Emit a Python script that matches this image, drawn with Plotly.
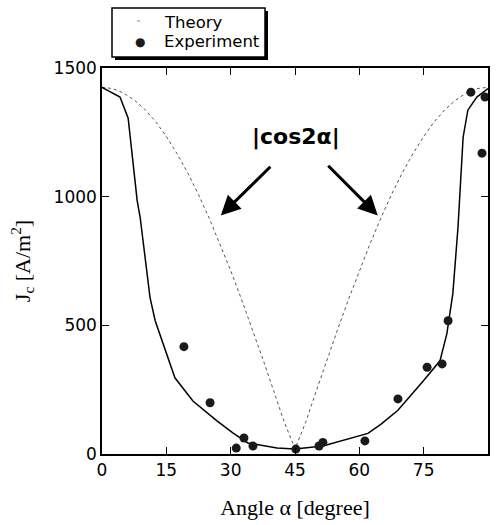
import plotly.graph_objects as go

# Theory (solid) curve
theory_angle = [0, 4.2, 6.1, 7.2, 8.2, 8.9, 10, 11.2, 12.4, 14, 17, 21.2, 26.8, 30.5, 34,
                40.8, 45, 51.5, 62, 65, 69, 74.9, 78.8, 80.4, 81.8, 83, 84.2, 85.3, 87.4, 90]
theory_jc = [1425, 1387, 1305, 1141, 985, 919, 763, 608, 518, 440, 296, 206, 129, 82, 43,
             23, 19, 31, 80, 115, 170, 284, 362, 467, 623, 880, 1231, 1336, 1387, 1420]

# |cos2a| dotted curve
cos_angle = [0, 2.5, 5, 7.5, 10, 12.5, 15, 17.5, 20, 22.5, 25, 27.5, 30, 32.5, 35, 37.5, 40, 42.5, 45,
             47.5, 50, 52.5, 55, 57.5, 60, 62.5, 65, 67.5, 70, 72.5, 75, 77.5, 80, 82.5, 85, 87.5, 90]
cos_jc = [1425, 1420, 1403, 1376, 1339, 1292, 1234, 1167, 1092, 1008, 916, 817, 713, 602, 487, 369, 247, 124, 20,
          124, 247, 369, 487, 602, 713, 817, 916, 1008, 1092, 1167, 1234, 1292, 1339, 1376, 1403, 1420, 1425]

# Experiment points
exp_angle = [19.1, 25.2, 31.3, 33.1, 35.2, 45.2, 50.6, 51.5, 61.3, 69.0, 75.8, 79.3, 80.7, 86.0, 88.6, 89.3]
exp_jc = [417, 199, 23, 62, 31, 19, 31, 45, 51, 214, 337, 350, 518, 1406, 1169, 1387]

x_ticks = [0, 15, 30, 45, 60, 75, 90]
y_ticks = [0, 500, 1000, 1500]
legend_labels = ["Theory", "Experiment"]

fig = go.Figure()
fig.add_trace(go.Scatter(x=cos_angle, y=cos_jc, mode="lines", name="|cos2α|",
                         line=dict(color="#555555", width=1, dash="dot"), showlegend=False))
fig.add_trace(go.Scatter(x=theory_angle, y=theory_jc, mode="lines", name=legend_labels[0],
                         line=dict(color="black", width=1.5), showlegend=False))
fig.add_trace(go.Scatter(x=exp_angle, y=exp_jc, mode="markers", name=legend_labels[1],
                         marker=dict(color="#1a1a1a", size=9, symbol="circle"), showlegend=False))

axis_common = dict(showline=True, linecolor="black", linewidth=1.5, mirror="ticks",
                   ticks="inside", ticklen=7, tickwidth=1.2, tickcolor="black",
                   showgrid=False, zeroline=False,
                   tickfont=dict(family="DejaVu Sans", size=17, color="black"))

fig.update_xaxes(range=[0, 90], tickvals=x_ticks, ticktext=[str(v) for v in x_ticks],
                 title=dict(text="Angle α [degree]", standoff=20,
                            font=dict(family="Liberation Serif", size=22, color="black")),
                 **axis_common)
fig.update_yaxes(range=[0, 1500], tickvals=y_ticks, ticktext=[str(v) for v in y_ticks],
                 title=dict(text="J<sub>c</sub> [A/m<sup>2</sup>]", standoff=17,
                            font=dict(family="Liberation Serif", size=22, color="black")),
                 **axis_common)

W, H = 498, 525
L, R, T, B = 102, 10, 68, 71
pw, ph = W - L - R, H - T - B

def px(xp):
    return (xp - L) / pw

def py(yp):
    return (H - B - yp) / ph

annotations = [
    dict(x=45.2, y=1231, xref="x", yref="y", text="<b>|cos2α|</b>", showarrow=False,
         font=dict(family="DejaVu Sans", size=22, color="black")),
    dict(x=27.7, y=927, ax=39.6, ay=1122, xref="x", yref="y", axref="x", ayref="y",
         text="", showarrow=True, arrowhead=2, arrowsize=1.3, arrowwidth=3, arrowcolor="black"),
    dict(x=64.3, y=927, ax=52.4, ay=1126, xref="x", yref="y", axref="x", ayref="y",
         text="", showarrow=True, arrowhead=2, arrowsize=1.3, arrowwidth=3, arrowcolor="black"),
    # legend texts
    dict(x=px(162), y=py(22), xref="paper", yref="paper", xanchor="left", yanchor="middle",
         text=legend_labels[0], showarrow=False,
         font=dict(family="DejaVu Sans", size=16.5, color="black")),
    dict(x=px(162), y=py(42), xref="paper", yref="paper", xanchor="left", yanchor="middle",
         text=legend_labels[1], showarrow=False,
         font=dict(family="DejaVu Sans", size=16.5, color="black")),
    dict(x=px(140), y=py(42), xref="paper", yref="paper", xanchor="center", yanchor="middle",
         text="●", showarrow=False,
         font=dict(family="DejaVu Sans", size=12, color="#1a1a1a")),
]

shapes = [
    # legend drop shadow
    dict(type="rect", xref="paper", yref="paper", x0=px(115), x1=px(268), y0=py(60), y1=py(11),
         fillcolor="black", line=dict(width=0), layer="above"),
    # legend box
    dict(type="rect", xref="paper", yref="paper", x0=px(112), x1=px(265), y0=py(57), y1=py(8),
         fillcolor="white", line=dict(color="black", width=1.5), layer="above"),
    # faint theory sample
    dict(type="line", xref="paper", yref="paper", x0=px(137), x1=px(143), y0=py(21), y1=py(21),
         line=dict(color="#888888", width=1, dash="dot"), layer="above"),
]

fig.update_layout(
    width=W, height=H, margin=dict(l=L, r=R, t=T, b=B, autoexpand=False),
    paper_bgcolor="white", plot_bgcolor="white",
    showlegend=False,
    annotations=annotations, shapes=shapes,
)

fig.write_html("out.html", config={"displayModeBar": False},
               post_script="document.body.style.margin='0px';document.body.style.overflow='hidden';")
